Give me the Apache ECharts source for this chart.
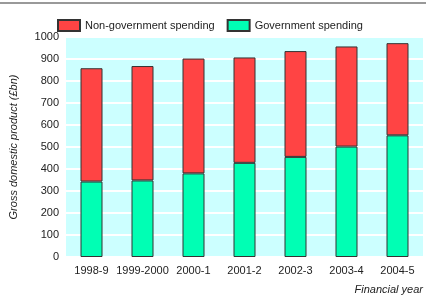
<!DOCTYPE html>
<html><head><meta charset="utf-8">
<script src="https://cdn.jsdelivr.net/npm/echarts@6/dist/echarts.min.js"></script>
<style>html,body{margin:0;padding:0;background:#fff}#c{width:426px;height:296px}</style>
</head><body><div id="c"></div>
<script>
const categories = ['1998-9','1999-2000','2000-1','2001-2','2002-3','2003-4','2004-5'];
const governmentSpending = [343, 348, 380, 428, 455, 502, 553];
const nonGovernmentSpending = [515, 520, 522, 479, 481, 455, 419];
const yTicks = [0,100,200,300,400,500,600,700,800,900,1000];

const chart = echarts.init(document.getElementById('c'), null, {renderer:'canvas'});
const font = 'Liberation Sans, Arial, sans-serif';
chart.setOption({
  animation: false,
  backgroundColor: '#fff',
  textStyle: {fontFamily: font},
  graphic: [{type:'line', shape:{x1:0,y1:3,x2:426,y2:3}, style:{stroke:'#999', lineWidth:2}}],
  legend: {
    top: 14, left: 52, itemGap: 12, itemWidth: 22, itemHeight: 11, icon: 'rect',
    textStyle: {fontSize: 11, color: '#222', fontFamily: font},
    data: ['Non-government spending','Government spending']
  },
  grid: {left: 57, right: 3, top: 37, bottom: 39, backgroundColor:'#ccffff', show:true, borderWidth:0},
  xAxis: {
    type: 'category', data: categories,
    name: 'Financial year', nameLocation: 'end', nameGap: 0,
    nameTextStyle: {fontStyle:'italic', fontSize: 11, color:'#222', align:'right', verticalAlign:'top', padding:[27,0,0,0]},
    axisLine: {show:false}, axisTick: {show:false},
    axisLabel: {fontSize: 11, color:'#222', margin: 8, interval: 0}
  },
  yAxis: {
    type: 'value', min: 0, max: 1000, interval: 100,
    name: 'Gross domestic product (£bn)', nameLocation: 'middle', nameGap: 47, nameRotate: 90,
    nameTextStyle: {fontStyle:'italic', fontSize: 11, color:'#222'},
    axisLine: {show:false}, axisTick: {show:false},
    axisLabel: {fontSize: 11, color:'#222', margin: 7, formatter: v => yTicks.includes(v) ? String(v) : ''},
    splitLine: {lineStyle: {color:'#fff', width: 2}}
  },
  series: [
    {name:'Government spending', type:'bar', stack:'a', data: governmentSpending, barWidth: 22,
     itemStyle:{color:'#00ffb4', borderColor:'#333', borderWidth:1}},
    {name:'Non-government spending', type:'bar', stack:'a', data: nonGovernmentSpending, barWidth: 22,
     itemStyle:{color:'#ff4444', borderColor:'#333', borderWidth:1}}
  ]
});
</script></body></html>
